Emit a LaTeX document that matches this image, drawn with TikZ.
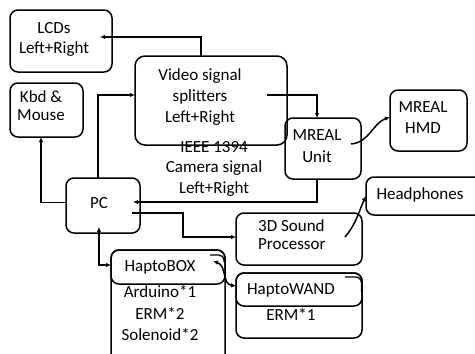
\documentclass[tikz,border=0pt]{standalone}
\usepackage{fontspec}
\setmainfont{Carlito}
\usetikzlibrary{arrows.meta}
\tikzset{
  box/.style={draw, line width=1.5pt, rounded corners=8pt, inner sep=0pt, outer sep=0pt},
  txt/.style={anchor=base, inner sep=0pt, font=\fontsize{17}{20}\selectfont},
  txtw/.style={anchor=base west, inner sep=0pt, font=\fontsize{17}{20}\selectfont},
  conn/.style={line width=1.5pt},
  arr/.style={conn, -{Latex[length=5pt,width=4.5pt]}},
  darr/.style={conn, {Latex[length=5pt,width=4.5pt]}-{Latex[length=5pt,width=4.5pt]}}
}
\begin{document}
\begin{tikzpicture}[x=1pt,y=-1pt]
\useasboundingbox (0,0) rectangle (475,354);
% boxes
\node[box, minimum width=102pt, minimum height=62pt] (lcd) at (61,41) {};
\node[box, minimum width=73pt, minimum height=54pt] (kbd) at (46.5,110) {};
\node[box, minimum width=152pt, minimum height=89pt, rounded corners=10pt] (video) at (211,100.5) {};
\node[box, minimum width=76pt, minimum height=61pt] (mreal) at (323,148.5) {};
\node[box, minimum width=77pt, minimum height=61pt] (hmd) at (428.5,120.5) {};
\node[box, minimum width=74pt, minimum height=55pt] (pc) at (103,205.5) {};
\node[box, minimum width=126pt, minimum height=52pt] (sound) at (299,239) {};
\node[box, minimum width=119pt, minimum height=38pt] (head) at (425.5,196) {};
\node[box, minimum width=114pt, minimum height=34pt] (hbox) at (168,267) {};
\draw[line width=1.5pt, rounded corners=8pt] (111,362) -- (111,250) -- (225,250) -- (225,362);
\node[box, minimum width=126pt, minimum height=65pt] (hwandout) at (299,305.5) {};
\node[box, minimum width=126pt, minimum height=33pt] (hwand) at (299,289.5) {};
% small corner fragments
\draw[line width=1.3pt, rounded corners=6pt] (345,277) -- (361.5,277) -- (361.5,292);
\draw[line width=1.3pt, rounded corners=5pt] (210,255) -- (224,255) -- (224,262);
% texts
\node[txt] (t1) at (54,33) {LCDs};
\node[txt] (t2) at (54,53) {Left+Right};
\node[txt] (t3) at (41,102) {Kbd \&};
\node[txt] (t4) at (41,120) {Mouse};
\node[txt] (t5) at (200,80) {Video signal};
\node[txt] (t6) at (200,101) {splitters};
\node[txt] (t7) at (200,122) {Left+Right};
\node[txt] (t8) at (214,152) {IEEE 1394};
\node[txt] (t9) at (214,172) {Camera signal};
\node[txt] (t10) at (214,193) {Left+Right};
\node[txt] (t11) at (317,140) {MREAL};
\node[txt] (t12) at (317,162) {Unit};
\node[txt] (t13) at (423,112) {MREAL};
\node[txt] (t14) at (423,133) {HMD};
\node[txt] (t15) at (99,208) {PC};
\node[txtw] (t16) at (258,231.5) {3D Sound};
\node[txtw] (t17) at (258,249) {Processor};
\node[txt] (t18) at (420,199) {Headphones};
\node[txt] (t19) at (160,271) {HaptoBOX};
\node[txt] (t20) at (160,297) {Arduino*1};
\node[txt] (t21) at (160,319) {ERM*2};
\node[txt] (t22) at (160,340) {Solenoid*2};
\node[txt] (t23) at (291,294) {HaptoWAND};
\node[txt] (t24) at (291,320) {ERM*1};
% connectors
\draw[arr] ([xshift=-10pt]video.north) |- ([xshift=-12pt,yshift=4pt]lcd.east);
\draw[arr] ([yshift=3pt]pc.west) -| ([xshift=-5.5pt]kbd.south);
\draw[arr] ([xshift=-5pt]pc.north) |- ([yshift=5.5pt]video.west);
\draw[arr] ([xshift=-20pt,yshift=5.5pt]video.east) -| ([xshift=-6pt]mreal.north);
\draw[arr] ([xshift=-6pt]mreal.south) |- ([xshift=-7pt,yshift=3.5pt]pc.east);
\draw[arr] ([xshift=-8pt,yshift=-7.5pt]pc.east) -- ++(51,0) |- ([yshift=2pt]sound.west);
\draw[arr] ([xshift=28pt,yshift=4.5pt]mreal.center) to[out=5,in=200] ([yshift=3.5pt]hmd.west);
\draw[arr] ([xshift=46pt,yshift=2pt]sound.center) to[out=50,in=245] (head.west);
\draw[darr] ([xshift=-4pt,yshift=6pt]pc.south) |- ([yshift=2pt]hbox.west);
\draw[darr] ([xshift=45pt,yshift=6pt]hbox.center) .. controls (227,266) and (222,284) .. ([yshift=3.5pt]hwand.west);
\end{tikzpicture}
\end{document}
